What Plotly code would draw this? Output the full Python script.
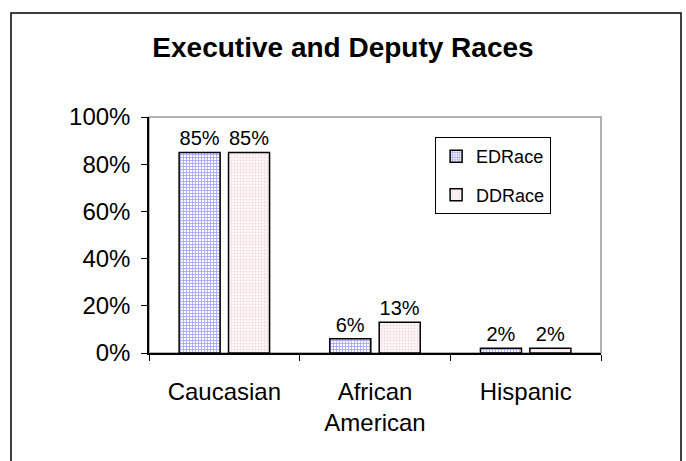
import plotly.graph_objects as go

categories = ["Caucasian", "African<br>American", "Hispanic"]
ed_race = [0.85, 0.06, 0.02]
dd_race = [0.85, 0.13, 0.02]
ed_labels = ["85%", "6%", "2%"]
dd_labels = ["85%", "13%", "2%"]
y_ticks = [0, 0.2, 0.4, 0.6, 0.8, 1.0]
y_tick_text = ["0%", "20%", "40%", "60%", "80%", "100%"]

FONT = "Arial, Liberation Sans, sans-serif"

fig = go.Figure()
fig.add_trace(go.Bar(
    name="EDRace", x=categories, y=ed_race, text=ed_labels,
    textposition="outside", cliponaxis=False,
    textfont=dict(size=20, color="black", family=FONT),
    marker=dict(color="white", line=dict(color="black", width=1.5),
                pattern=dict(shape="+", fgcolor="#5c5cff", bgcolor="white",
                             size=3, solidity=0.55)),
    legendgroup="a",
))
fig.add_trace(go.Bar(
    name="DDRace", x=categories, y=dd_race, text=dd_labels,
    textposition="outside", cliponaxis=False,
    textfont=dict(size=20, color="black", family=FONT),
    marker=dict(color="white", line=dict(color="black", width=1.5),
                pattern=dict(shape=".", fgcolor="#e8b8c8", bgcolor="#fdf8f8",
                             size=3, solidity=0.35)),
    legendgroup="b",
))

# plot area frame (gray) and outer chart border
fig.add_shape(type="rect", xref="paper", yref="paper", x0=0, x1=1, y0=0, y1=1,
              line=dict(color="#999999", width=1.5), layer="below")
fig.add_shape(type="rect", xref="paper", yref="paper",
              x0=-0.3053, x1=1.177, y0=-0.5, y1=1.4407,
              line=dict(color="black", width=1.5))

fig.update_layout(
    width=686, height=461,
    margin=dict(l=149, r=85, t=117, b=108),
    paper_bgcolor="white", plot_bgcolor="white",
    font=dict(family=FONT, size=24, color="black"),
    title=dict(text="<b>Executive and Deputy Races</b>", x=0.5, xref="container",
               xanchor="center", y=1 - 47 / 461, yref="container", yanchor="middle",
               font=dict(size=28, family=FONT, color="black")),
    barmode="group", bargap=0.344, bargroupgap=0.17,
    showlegend=True,
    legend=dict(x=0.633, y=0.915, xanchor="left", yanchor="top",
                bordercolor="black", borderwidth=1, bgcolor="white",
                font=dict(size=18, family=FONT), traceorder="grouped",
                tracegroupgap=12, itemwidth=30),
    xaxis=dict(showline=True, linecolor="black", linewidth=1.5,
               ticks="outside", tickson="boundaries", ticklen=6,
               tickcolor="black", ticklabelstandoff=16, showgrid=False,
               tickfont=dict(size=24)),
    yaxis=dict(range=[0, 1], tickvals=y_ticks, ticktext=y_tick_text,
               showline=True, linecolor="black", linewidth=1.5,
               ticks="outside", ticklen=6, tickcolor="black",
               showgrid=False, zeroline=False, ticklabelstandoff=6,
               tickfont=dict(size=24)),
)

fig.write_html("out.html", config={"displayModeBar": False},
               post_script="document.body.style.margin='0';")
